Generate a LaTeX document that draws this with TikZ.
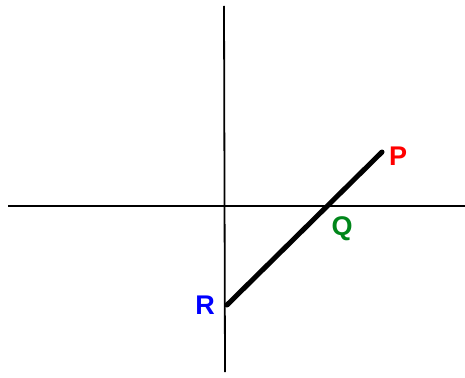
\documentclass[tikz,border=0pt]{standalone}
\usepackage{fontspec}
\setmainfont{Liberation Sans}
\definecolor{labelred}{HTML}{FF0000}
\definecolor{labelgreen}{HTML}{00861A}
\definecolor{labelblue}{HTML}{0000FF}

\begin{document}
\begin{tikzpicture}[
  x=1pt,
  y=-1pt,
  line join=round,
  axisline/.style={draw=black,line width=1.8pt},
  segline/.style={draw=black,line width=5pt,line cap=round},
  ptlabel/.style={font=\fontsize{27}{27}\selectfont\bfseries,inner sep=0pt}
]
  \useasboundingbox (0,0) rectangle (465,377);

  % Axes crossing at the origin.
  \coordinate (Xl) at (8,206);
  \coordinate (Xr) at (465,206);
  \coordinate (Yt) at (224,6);
  \coordinate (Yb) at (225,372);
  \draw[axisline] (Xl) -- (Xr);
  \draw[axisline] (Yt) -- (Yb);

  % The segment from R on the y-axis up to P.
  \coordinate (R) at (227,305);
  \coordinate (P) at (382,152);
  \draw[segline] (R) -- (P);

  % Point labels.
  \node[ptlabel,text=labelred] (Plabel) at (398,156) {P};
  \node[ptlabel,text=labelgreen] (Qlabel) at (342,229) {Q};
  \node[ptlabel,text=labelblue] (Rlabel) at (205,305) {R};
\end{tikzpicture}
\end{document}
